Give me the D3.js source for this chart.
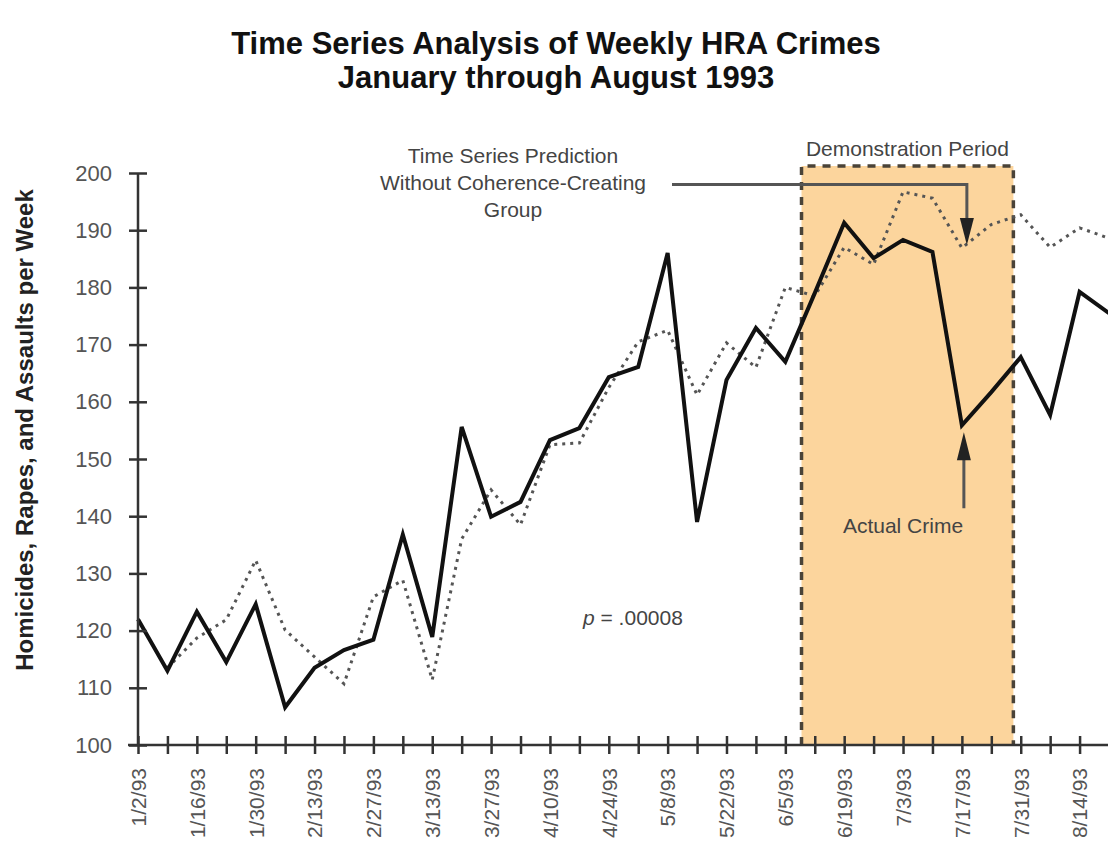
<!DOCTYPE html>
<html>
<head>
<meta charset="utf-8">
<script src="https://cdn.jsdelivr.net/npm/d3@7"></script>
<style>
  body { margin: 0; background: #fff; }
  svg { display: block; font-family: "Liberation Sans", Arial, sans-serif; }
</style>
</head>
<body>
<div id="chart"></div>
<script>
// weekly values, week 0 = 1/2/93
var actualCrime = [122, 113, 123.3, 114.5, 124.6, 106.6, 113.5, 116.6, 118.4, 136.8,
  118.9, 155.6, 139.9, 142.5, 153.3, 155.4, 164.3, 166.1, 186, 139,
  163.8, 172.9, 167, 179, 191.3, 185.1, 188.3, 186.2, 155.9, 161.7,
  167.8, 157.7, 179.2, 175.5];
var predicted = [null, 113.5, 118.7, 121.9, 132.3, 120.1, 115.4, 110.7, 125.9, 128.8,
  111.4, 136, 144.6, 138.5, 152.5, 152.8, 162.5, 170.5, 172.5, 161.2,
  170.3, 166, 180, 178.5, 187, 184, 196.7, 195.6, 186.9, 191,
  192.7, 187, 190.4, 188.6];
var tickLabels = ["1/2/93", "1/16/93", "1/30/93", "2/13/93", "2/27/93", "3/13/93",
  "3/27/93", "4/10/93", "4/24/93", "5/8/93", "5/22/93", "6/5/93", "6/19/93",
  "7/3/93", "7/17/93", "7/31/93", "8/14/93"];
var yTicks = [100, 110, 120, 130, 140, 150, 160, 170, 180, 190, 200];
var demoPeriod = [22.55, 29.75]; // in weeks

var width = 1108, height = 846;

var svg = d3.select("#chart").append("svg")
    .attr("width", width)
    .attr("height", height);

svg.append("rect").attr("width", width).attr("height", height).attr("fill", "#fff");

// scales
var x = d3.scaleLinear().domain([0, 33]).range([138, 1109]);
var y = d3.scaleLinear().domain([100, 200]).range([745, 173]);

// title
svg.append("text")
    .attr("x", 556).attr("y", 54)
    .attr("text-anchor", "middle")
    .style("font-size", "31px").style("font-weight", "bold").attr("fill", "#111")
    .text("Time Series Analysis of Weekly HRA Crimes");
svg.append("text")
    .attr("x", 556).attr("y", 88)
    .attr("text-anchor", "middle")
    .style("font-size", "31px").style("font-weight", "bold").attr("fill", "#111")
    .text("January through August 1993");

// demonstration period box
var boxTop = y(200) - 7;
svg.append("rect")
    .attr("x", x(demoPeriod[0]))
    .attr("y", boxTop)
    .attr("width", x(demoPeriod[1]) - x(demoPeriod[0]))
    .attr("height", y(100) - boxTop)
    .attr("fill", "#fcd59d");
svg.append("path")
    .attr("d", "M" + x(demoPeriod[0]) + "," + y(100) + "V" + boxTop +
        "H" + x(demoPeriod[1]) + "V" + y(100))
    .attr("fill", "none")
    .attr("stroke", "#4a4338")
    .attr("stroke-width", 3.5)
    .attr("stroke-dasharray", "8,7");
svg.append("text")
    .attr("x", (x(demoPeriod[0]) + x(demoPeriod[1])) / 2).attr("y", boxTop - 10)
    .attr("text-anchor", "middle")
    .style("font-size", "21px").attr("fill", "#444")
    .text("Demonstration Period");

// lines
var line = d3.line()
    .defined(function(d) { return d != null; })
    .x(function(d, i) { return x(i); })
    .y(function(d) { return y(d); });

svg.append("path")
    .datum(predicted)
    .attr("d", line)
    .attr("fill", "none")
    .attr("stroke", "#555")
    .attr("stroke-width", 3)
    .attr("stroke-dasharray", "3,5");

svg.append("path")
    .datum(actualCrime)
    .attr("d", line)
    .attr("fill", "none")
    .attr("stroke", "#111")
    .attr("stroke-width", 4)
    .attr("stroke-linejoin", "miter");

// y axis
var yAxis = svg.append("g")
    .attr("transform", "translate(" + x(0) + ",0)")
    .call(d3.axisLeft(y).tickValues(yTicks).tickSize(9).tickPadding(17));
yAxis.select(".domain").attr("stroke", "#333").attr("stroke-width", 2.5)
    .attr("d", "M0," + y(200) + "V" + y(100));
yAxis.selectAll(".tick line").attr("x1", -9).attr("x2", 9)
    .attr("stroke", "#333").attr("stroke-width", 2.5);
yAxis.selectAll(".tick text").style("font-size", "22px").attr("fill", "#555")
    .style("font-family", "Liberation Sans, Arial, sans-serif");

// x axis, ticks every week, label every other week
var xAxis = svg.append("g")
    .attr("transform", "translate(0," + y(100) + ")")
    .call(d3.axisBottom(x).tickValues(d3.range(0, 34)).tickSize(9)
        .tickFormat(function(d) { return d % 2 === 0 ? tickLabels[d / 2] : ""; }));
xAxis.select(".domain").attr("stroke", "#333").attr("stroke-width", 2.5)
    .attr("d", "M" + (x(0) - 10) + ",0H" + width);
xAxis.selectAll(".tick line").attr("y1", -9).attr("y2", 9)
    .attr("stroke", "#333").attr("stroke-width", 2.5);
xAxis.selectAll(".tick text")
    .style("font-size", "21px").attr("fill", "#555")
    .style("font-family", "Liberation Sans, Arial, sans-serif")
    .attr("text-anchor", "end")
    .attr("transform", "rotate(-90)")
    .attr("x", -23).attr("y", 0).attr("dy", "0.35em");

// y axis title
svg.append("text")
    .attr("transform", "translate(33,430) rotate(-90)")
    .attr("text-anchor", "middle")
    .style("font-size", "24px").style("font-weight", "bold").attr("fill", "#222")
    .text("Homicides, Rapes, and Assaults per Week");

// prediction annotation
var note = svg.append("text")
    .attr("text-anchor", "middle")
    .style("font-size", "21px").attr("fill", "#444");
["Time Series Prediction", "Without Coherence-Creating", "Group"].forEach(function(t, i) {
    note.append("tspan").attr("x", 513).attr("y", 163 + i * 27).text(t);
});

var ax1 = x(28) + 5, tip1 = y(predicted[28]) - 3, arrowY = y(198);
svg.append("path")
    .attr("d", "M672," + arrowY + "H" + ax1 + "V" + (tip1 - 24))
    .attr("fill", "none").attr("stroke", "#555").attr("stroke-width", 3);
svg.append("path")
    .attr("d", "M" + (ax1 - 7) + "," + (tip1 - 27) + "L" + (ax1 + 7) + "," + (tip1 - 27) +
        "L" + ax1 + "," + tip1 + "Z")
    .attr("fill", "#222");

// actual crime annotation
var ax2 = x(28) + 2, tip2 = y(actualCrime[28]) + 7;
svg.append("path")
    .attr("d", "M" + ax2 + "," + (tip2 + 76) + "V" + (tip2 + 26))
    .attr("fill", "none").attr("stroke", "#555").attr("stroke-width", 3);
svg.append("path")
    .attr("d", "M" + (ax2 - 7) + "," + (tip2 + 28) + "L" + (ax2 + 7) + "," + (tip2 + 28) +
        "L" + ax2 + "," + tip2 + "Z")
    .attr("fill", "#222");
svg.append("text")
    .attr("x", 903).attr("y", 533)
    .attr("text-anchor", "middle")
    .style("font-size", "21px").attr("fill", "#444")
    .text("Actual Crime");

// p value
var pText = svg.append("text")
    .attr("x", 583).attr("y", 625)
    .style("font-size", "21px").attr("fill", "#444");
pText.append("tspan").style("font-style", "italic").text("p");
pText.append("tspan").text(" = .00008");
</script>
</body>
</html>
